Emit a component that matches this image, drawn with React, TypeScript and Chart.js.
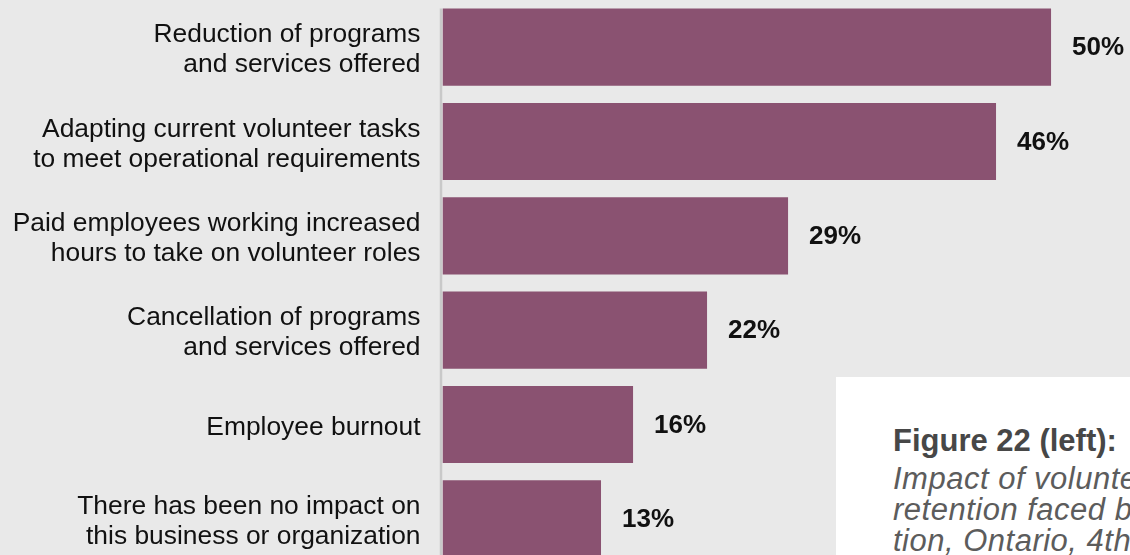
import React, { useEffect, useRef } from "react";
import { Chart, registerables } from "chart.js";

Chart.register(...registerables);

const categories: (string | string[])[] = [
  ["Reduction of programs", "and services offered"],
  ["Adapting current volunteer tasks", "to meet operational requirements"],
  ["Paid employees working increased", "hours to take on volunteer roles"],
  ["Cancellation of programs", "and services offered"],
  "Employee burnout",
  ["There has been no impact on", "this business or organization"],
];
const values = [50.33, 45.78, 28.58, 21.88, 15.76, 13.11];
const valueLabels = ["50%", "46%", "29%", "22%", "16%", "13%"];

const figureTitle = "Figure 22 (left):";
const figureCaption = [
  "Impact of volunteer recruitment and",
  "retention faced by business or organiza-",
  "tion, Ontario, 4th quarter of 2022",
];

const FONT = "'Liberation Sans', Arial, Helvetica, sans-serif";

export default function App() {
  const canvasRef = useRef<HTMLCanvasElement | null>(null);

  useEffect(() => {
    const canvas = canvasRef.current;
    if (!canvas) return;

    const extras = {
      id: "extras",
      beforeDraw(chart: any) {
        const s = chart.scales.y;
        const items = s.getLabelItems(chart.chartArea);
        if (!items.__shifted) {
          items.forEach((it: any) => {
            it.options.translation[1] += 3;
          });
          items.__shifted = true;
        }
      },
      beforeDatasetsDraw(chart: any) {
        const ctx = chart.ctx;
        const meta = chart.getDatasetMeta(0);
        const first = meta.data[0] as any;
        const top = first.y - first.height / 2;
        ctx.save();
        ctx.strokeStyle = "#c9c9c9";
        ctx.lineWidth = 2.5;
        ctx.beginPath();
        ctx.moveTo(chart.chartArea.left - 1.5, top);
        ctx.lineTo(chart.chartArea.left - 1.5, chart.chartArea.bottom);
        ctx.stroke();
        ctx.restore();
      },
      afterDatasetsDraw(chart: any) {
        const ctx = chart.ctx;
        const meta = chart.getDatasetMeta(0);
        ctx.save();
        ctx.font = `bold 26px ${FONT}`;
        ctx.fillStyle = "#111111";
        ctx.textAlign = "left";
        ctx.textBaseline = "middle";
        meta.data.forEach((bar: any, i: number) => {
          ctx.fillText(valueLabels[i], bar.x + 21, bar.y + 1);
        });
        ctx.restore();
      },
    };

    const chart = new Chart(canvas, {
      type: "bar",
      data: {
        labels: categories,
        datasets: [
          {
            data: values,
            backgroundColor: "#8a5271",
            borderWidth: 0,
            barPercentage: 1,
            categoryPercentage: 0.818,
          },
        ],
      },
      options: {
        indexAxis: "y",
        responsive: false,
        animation: false,
        devicePixelRatio: 1,
        layout: { padding: 0 },
        plugins: {
          legend: { display: false },
          tooltip: { enabled: false },
        },
        scales: {
          x: {
            display: false,
            min: 0,
            max: 56.86,
            grid: { display: false },
          },
          y: {
            grid: { display: false, drawTicks: false },
            border: { display: false },
            afterFit: (scale: any) => {
              scale.width = 442.5;
              scale.paddingTop = 0;
              scale.paddingBottom = 0;
            },
            ticks: {
              color: "#111111",
              padding: 22,
              font: { family: FONT, size: 26.4, lineHeight: 1.14 },
            },
          },
        },
      },
      plugins: [extras],
    } as any);

    return () => {
      chart.destroy();
    };
  }, []);

  return (
    <div
      style={{
        position: "fixed",
        left: 0,
        top: 0,
        width: 1130,
        height: 555,
        overflow: "hidden",
        background: "#e9e9e9",
      }}
    >
      <canvas
        ref={canvasRef}
        width={1130}
        height={566}
        style={{ display: "block", width: 1130, height: 566 }}
      />
      <div
        style={{
          position: "absolute",
          left: 836,
          top: 377,
          width: 420,
          height: 260,
          background: "#ffffff",
          fontFamily: FONT,
          whiteSpace: "nowrap",
        }}
      >
        <div
          style={{
            position: "absolute",
            left: 57,
            top: 47.75,
            fontSize: 31,
            lineHeight: "31px",
            fontWeight: "bold",
            color: "#474747",
          }}
        >
          {figureTitle}
        </div>
        <div
          style={{
            position: "absolute",
            left: 57,
            top: 85.75,
            fontSize: 31,
            lineHeight: "31px",
            fontStyle: "italic",
            letterSpacing: "0.5px",
            color: "#5c5c5c",
          }}
        >
          {figureCaption.map((line, i) => (
            <div key={i}>{line}</div>
          ))}
        </div>
      </div>
    </div>
  );
}
